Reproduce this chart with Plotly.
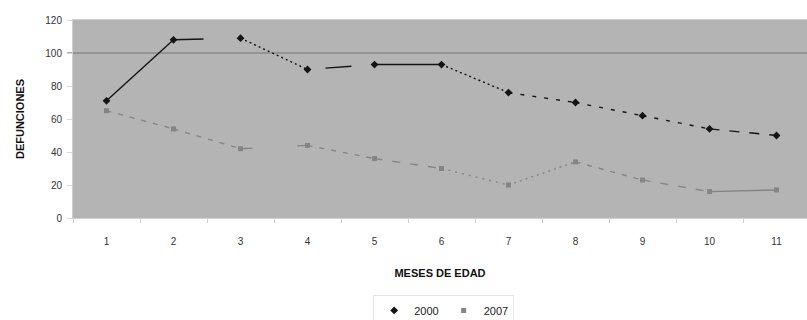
import plotly.graph_objects as go

# Defunciones por mes de edad, dos años de registro
meses = [1, 2, 3, 4, 5, 6, 7, 8, 9, 10, 11]
def_2000 = [71, 108, 109, 90, 93, 93, 76, 70, 62, 54, 50]
def_2007 = [65, 54, 42, 44, 36, 30, 20, 34, 23, 16, 17]
y_ticks = [0, 20, 40, 60, 80, 100, 120]

# trazo de cada tramo entre meses consecutivos
tramos_2000 = ["solid", "30px,200px", "2px,3px", "0px,18px,26px,200px", "solid",
               "2px,3px", "4px,8px", "4px,8px", "4px,8px", "10px,10px"]
tramos_2007 = ["5px,7px", "5px,7px", "12px,45px,20px", "5px,7px", "8px,10px",
               "2px,5px", "2px,4px", "5px,7px", "8px,10px", "solid"]

fig = go.Figure()

def add_series(name, xs, ys, dashes, color, symbol, size):
    for i in range(len(xs) - 1):
        fig.add_trace(go.Scatter(
            x=xs[i:i + 2], y=ys[i:i + 2], mode="lines",
            line=dict(color=color, width=1.4, dash=dashes[i]),
            showlegend=False, hoverinfo="skip"))
    fig.add_trace(go.Scatter(
        x=xs, y=ys, mode="markers", name=name,
        marker=dict(color=color, symbol=symbol, size=size)))

add_series("2000", meses, def_2000, tramos_2000, "#141414", "diamond", 6)
add_series("2007", meses, def_2007, tramos_2007, "#858585", "square", 5)

# línea de referencia en 100
fig.add_shape(type="line", xref="paper", yref="y", x0=-0.008, x1=1,
              y0=100, y1=100, line=dict(color="#8a8a8a", width=1.5), layer="below")

font = "Liberation Sans, Arial, sans-serif"
fig.update_layout(
    width=807, height=320,
    margin=dict(l=73, r=0, t=20, b=102, autoexpand=False),
    paper_bgcolor="white", plot_bgcolor="#b4b4b4",
    font=dict(family=font, size=10, color="#333333"),
    showlegend=True,
    legend=dict(orientation="h", x=0.505, xanchor="center",
                yref="container", y=0.03, yanchor="middle",
                font=dict(size=11, color="#222222"), bgcolor="white",
                bordercolor="#e4e4e4", borderwidth=1, itemwidth=30,
                tracegroupgap=0),
    xaxis=dict(range=[0.5, 11.455], tickvals=meses, ticks="", showgrid=False,
               zeroline=False, showline=True, linecolor="#d0d0d0", mirror=True,
               automargin=False, ticklabelstandoff=14,
               tickfont=dict(size=10, color="#333333"),
               minor=dict(tickvals=[m + 0.5 for m in meses[:-1]] + [0.5],
                          ticks="outside", ticklen=4, tickcolor="#d0d0d0"),
               title=dict(text="<b>MESES DE EDAD</b>", font=dict(size=11, color="#111111"),
                          standoff=23)),
    yaxis=dict(range=[0, 120], tickvals=y_ticks, showgrid=False, zeroline=False,
               showline=True, linecolor="#d0d0d0", mirror=True, automargin=False,
               ticks="outside", ticklen=5, tickcolor="#d8d8d8", ticklabelstandoff=3,
               tickfont=dict(size=10, color="#333333"),
               title=dict(text="<b>DEFUNCIONES</b>", font=dict(size=11, color="#111111"),
                          standoff=18)),
)

fig.write_html("out.html")
